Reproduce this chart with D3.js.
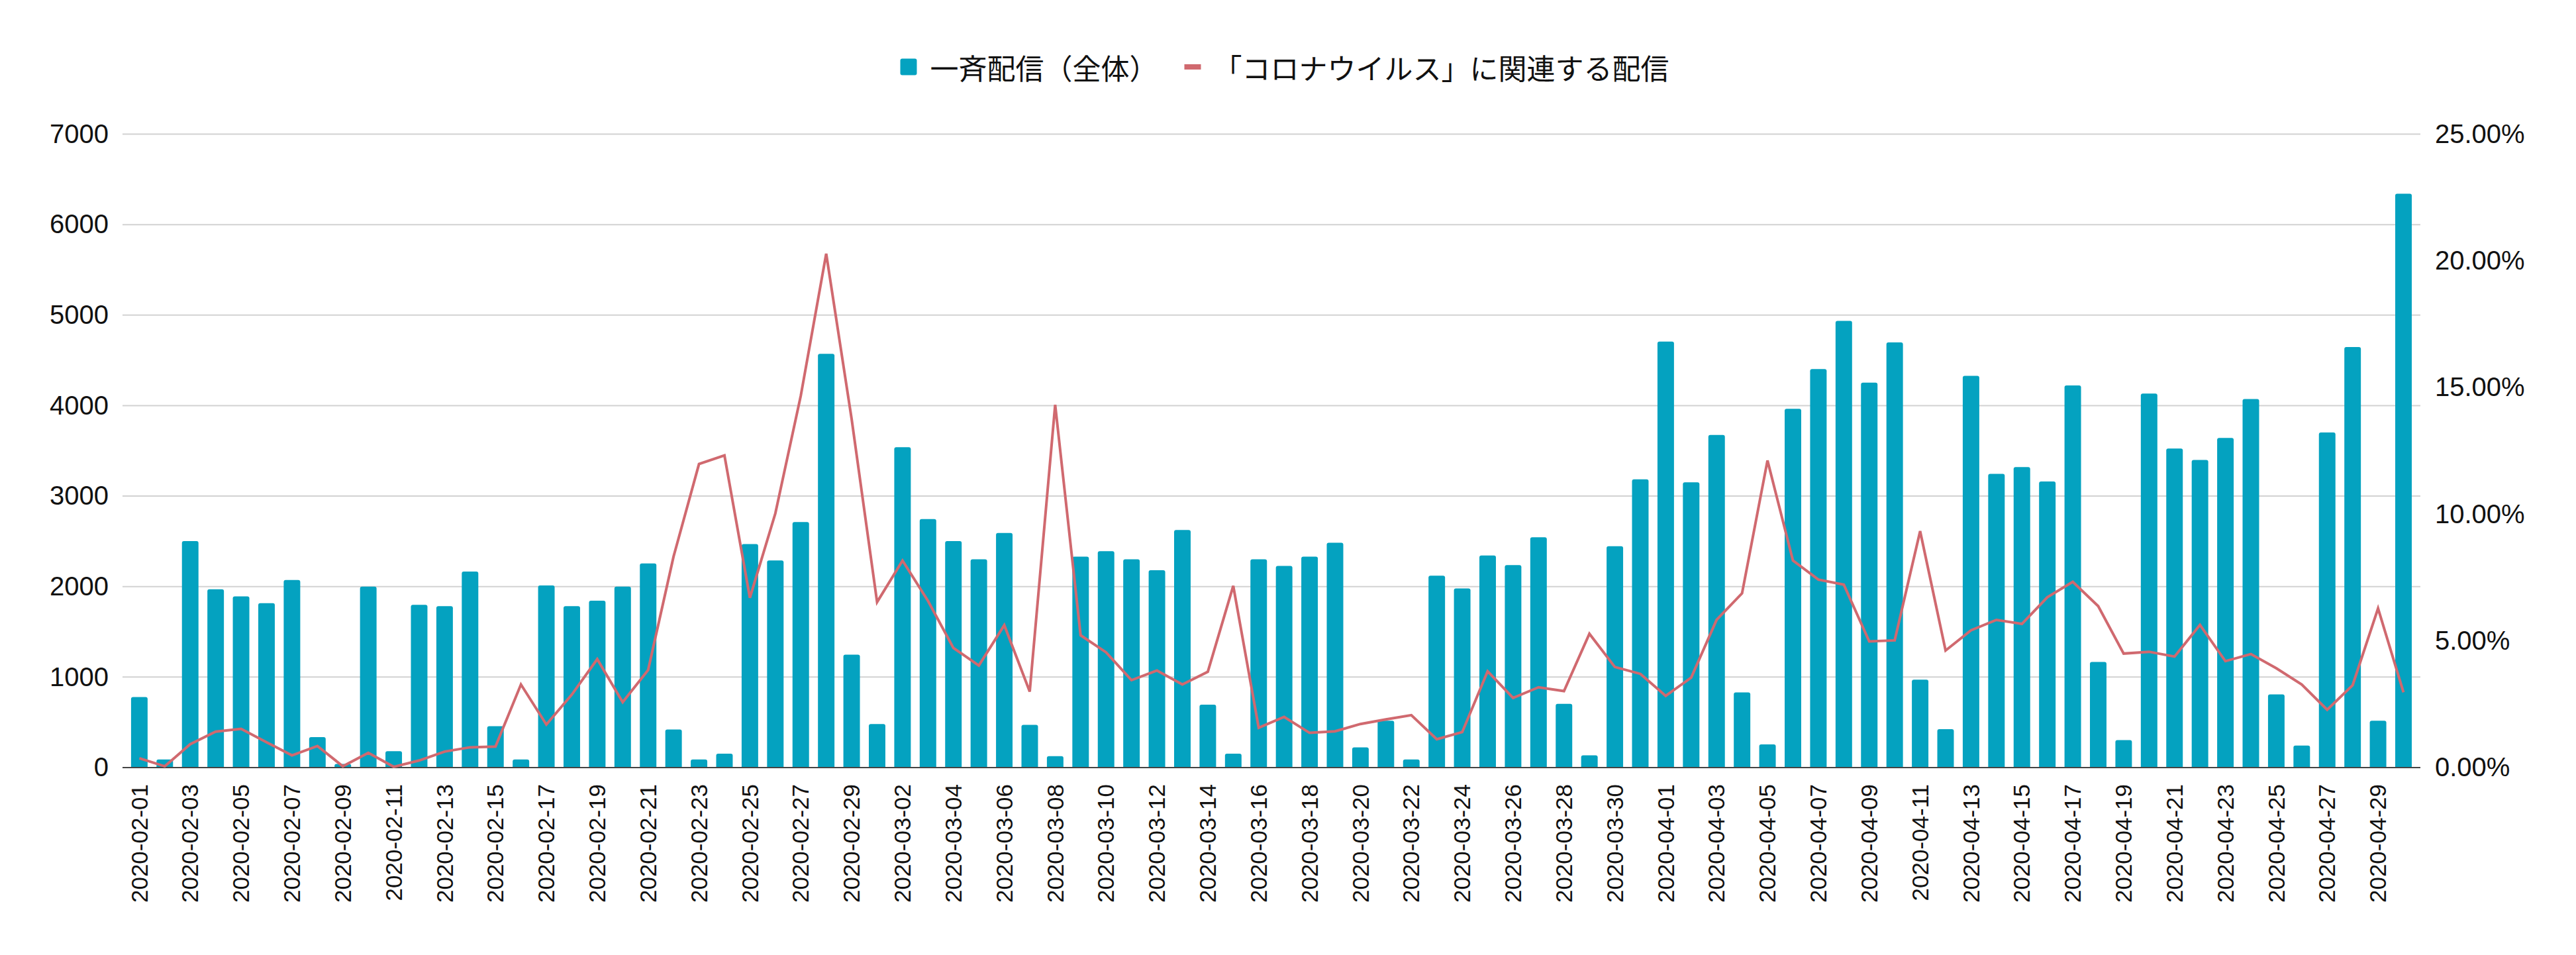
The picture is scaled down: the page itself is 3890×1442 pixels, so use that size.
<!DOCTYPE html>
<html>
<head>
<meta charset="utf-8">
<script src="https://cdn.jsdelivr.net/npm/d3@7"></script>
<style>
  html, body { margin: 0; padding: 0; background: #fff; }
  svg { display: block; }
</style>
</head>
<body>
<svg id="chart" width="3890" height="1442"></svg>
<script>
// ---- data ----
const dates = [
  "2020-02-01","2020-02-02","2020-02-03","2020-02-04","2020-02-05","2020-02-06","2020-02-07","2020-02-08","2020-02-09","2020-02-10",
  "2020-02-11","2020-02-12","2020-02-13","2020-02-14","2020-02-15","2020-02-16","2020-02-17","2020-02-18","2020-02-19","2020-02-20",
  "2020-02-21","2020-02-22","2020-02-23","2020-02-24","2020-02-25","2020-02-26","2020-02-27","2020-02-28","2020-02-29","2020-03-01",
  "2020-03-02","2020-03-03","2020-03-04","2020-03-05","2020-03-06","2020-03-07","2020-03-08","2020-03-09","2020-03-10","2020-03-11",
  "2020-03-12","2020-03-13","2020-03-14","2020-03-15","2020-03-16","2020-03-17","2020-03-18","2020-03-19","2020-03-20","2020-03-21",
  "2020-03-22","2020-03-23","2020-03-24","2020-03-25","2020-03-26","2020-03-27","2020-03-28","2020-03-29","2020-03-30","2020-03-31",
  "2020-04-01","2020-04-02","2020-04-03","2020-04-04","2020-04-05","2020-04-06","2020-04-07","2020-04-08","2020-04-09","2020-04-10",
  "2020-04-11","2020-04-12","2020-04-13","2020-04-14","2020-04-15","2020-04-16","2020-04-17","2020-04-18","2020-04-19","2020-04-20",
  "2020-04-21","2020-04-22","2020-04-23","2020-04-24","2020-04-25","2020-04-26","2020-04-27","2020-04-28","2020-04-29","2020-04-30"
];
// 一斉配信（全体） counts
const totalDeliveries = [
  780, 89, 2503, 1971, 1891, 1817, 2073, 336, 40, 1999, 182, 1798, 1784, 2167, 458,
  89, 2013, 1784, 1845, 1999, 2256, 420, 89, 154, 2470, 2288, 2713, 4572, 1247, 481,
  3540, 2746, 2503, 2302, 2592, 472, 126, 2330, 2391, 2302, 2181, 2625, 696, 154, 2302,
  2228, 2330, 2484, 224, 518, 89, 2120, 1980, 2344, 2237, 2545, 705, 135, 2447, 3185,
  4707, 3152, 3675, 831, 257, 3965, 4404, 4936, 4254, 4698, 971, 425, 4329, 3246, 3320,
  3162, 4222, 1168, 304, 4133, 3526, 3400, 3643, 4072, 808, 243, 3703, 4647, 518, 6342
];
// 「コロナウイルス」に関連する配信 share (%)
const coronaShare = [
  0.37, 0.05, 0.92, 1.42, 1.53, 1.00, 0.48, 0.85, 0.05, 0.58, 0.03, 0.28, 0.63, 0.80, 0.83,
  3.28, 1.70, 2.88, 4.28, 2.58, 3.85, 8.33, 11.98, 12.32, 6.70, 10.03, 14.67, 20.28, 13.75, 6.53,
  8.17, 6.58, 4.72, 4.03, 5.62, 3.00, 14.32, 5.22, 4.55, 3.45, 3.83, 3.28, 3.78, 7.17, 1.57,
  2.00, 1.37, 1.43, 1.72, 1.90, 2.07, 1.12, 1.40, 3.80, 2.75, 3.17, 3.02, 5.28, 3.97, 3.70,
  2.83, 3.55, 5.83, 6.88, 12.12, 8.17, 7.42, 7.22, 4.98, 5.02, 9.33, 4.62, 5.42, 5.83, 5.67,
  6.72, 7.33, 6.37, 4.50, 4.57, 4.38, 5.63, 4.20, 4.48, 3.92, 3.28, 2.28, 3.25, 6.28, 2.97
];
const leftTicks = [0, 1000, 2000, 3000, 4000, 5000, 6000, 7000];
const rightTicks = [0, 5, 10, 15, 20, 25];
const seriesNames = ["一斉配信（全体）", "「コロナウイルス」に関連する配信"];

// ---- layout ----
const W = 3890, H = 1442;
const plotL = 185, plotR = 3655, plotT = 202.5, plotB = 1159;
const barColor = "#04a2c0", lineColor = "#d0696f";
const latin = "'Liberation Sans', Arial, Helvetica, sans-serif";
const cjk = "'Noto Sans CJK JP', 'Noto Sans', sans-serif";

const svg = d3.select("#chart");

const step = (3629.5 - 210.4) / (dates.length - 1);
const x = d3.scaleBand()
  .domain(dates)
  .range([210.4 - step / 2, 3629.5 + step / 2])
  .paddingInner(0.35)
  .paddingOuter(0.175);

const y = d3.scaleLinear().domain([0, 7000]).range([plotB, plotT]);
const y2 = d3.scaleLinear().domain([0, 25]).range([plotB, plotT]);

// gridlines
svg.append("g").selectAll("line")
  .data(leftTicks.filter(d => d > 0))
  .join("line")
  .attr("x1", plotL).attr("x2", plotR)
  .attr("y1", d => y(d)).attr("y2", d => y(d))
  .attr("stroke", "#d2d2d2").attr("stroke-width", 2);

// left axis labels
const leftAxis = d3.axisLeft(y).tickValues(leftTicks).tickSize(0).tickPadding(0).tickFormat(d3.format("d"));
const gl = svg.append("g").attr("transform", `translate(164,0)`).call(leftAxis);
gl.select(".domain").remove();
gl.selectAll("text").attr("font-family", latin).attr("font-size", 40).attr("fill", "#111").attr("x", 0);

// right axis labels
const rightAxis = d3.axisRight(y2).tickValues(rightTicks).tickSize(0).tickPadding(0).tickFormat(d => d3.format(".2f")(d) + "%");
const gr = svg.append("g").attr("transform", `translate(3677,0)`).call(rightAxis);
gr.select(".domain").remove();
gr.selectAll("text").attr("font-family", latin).attr("font-size", 40).attr("fill", "#111").attr("x", 0);

// bars with rounded top corners
const r = 3;
svg.append("g").selectAll("path")
  .data(dates.map((d, i) => ({ d, v: totalDeliveries[i] })))
  .join("path")
  .attr("fill", barColor)
  .attr("d", p => {
    const x0 = x(p.d), w = x.bandwidth(), yt = y(p.v), yb = y(0);
    const rr = Math.min(r, (yb - yt) / 2);
    return `M${x0},${yb} L${x0},${yt + rr} Q${x0},${yt} ${x0 + rr},${yt} L${x0 + w - rr},${yt} Q${x0 + w},${yt} ${x0 + w},${yt + rr} L${x0 + w},${yb} Z`;
  });

// baseline
svg.append("line")
  .attr("x1", plotL).attr("x2", plotR)
  .attr("y1", plotB).attr("y2", plotB)
  .attr("stroke", "#444").attr("stroke-width", 2);

// line series
const line = d3.line()
  .x((d, i) => x(dates[i]) + x.bandwidth() / 2)
  .y(d => y2(d));
svg.append("path")
  .datum(coronaShare)
  .attr("d", line)
  .attr("fill", "none")
  .attr("stroke", lineColor)
  .attr("stroke-width", 4)
  .attr("stroke-linejoin", "miter");

// x labels (every other date)
const xAxis = d3.axisBottom(x)
  .tickValues(dates.filter((d, i) => i % 2 === 0))
  .tickSize(0).tickPadding(0);
const gx = svg.append("g").attr("transform", `translate(0,${plotB})`).call(xAxis);
gx.select(".domain").remove();
gx.selectAll("text")
  .attr("font-family", latin).attr("font-size", 35).attr("fill", "#111")
  .attr("text-anchor", "end")
  .attr("dy", "0.35em")
  .attr("y", 0)
  .attr("transform", "translate(0,25) rotate(-90)");

// legend
const legend = svg.append("g");
const legY = 101;
const t1 = legend.append("text").text(seriesNames[0])
  .attr("font-family", cjk).attr("font-size", 43).attr("fill", "#111")
  .attr("dominant-baseline", "central").attr("y", legY);
const t2 = legend.append("text").text(seriesNames[1])
  .attr("font-family", cjk).attr("font-size", 43).attr("fill", "#111")
  .attr("dominant-baseline", "central").attr("y", legY);
const w1 = t1.node().getComputedTextLength();
const w2 = t2.node().getComputedTextLength();
const total = 25 + 20 + w1 + 40 + 25 + 19 + w2;
let lx = 1940 - total / 2;
legend.append("rect").attr("x", lx).attr("y", legY - 12.5).attr("width", 25).attr("height", 25)
  .attr("rx", 3).attr("fill", barColor);
lx += 25 + 20;
t1.attr("x", lx);
lx += w1 + 40;
legend.append("rect").attr("x", lx).attr("y", legY - 4).attr("width", 25).attr("height", 8)
  .attr("fill", lineColor);
lx += 25 + 19;
t2.attr("x", lx);
</script>
</body>
</html>
